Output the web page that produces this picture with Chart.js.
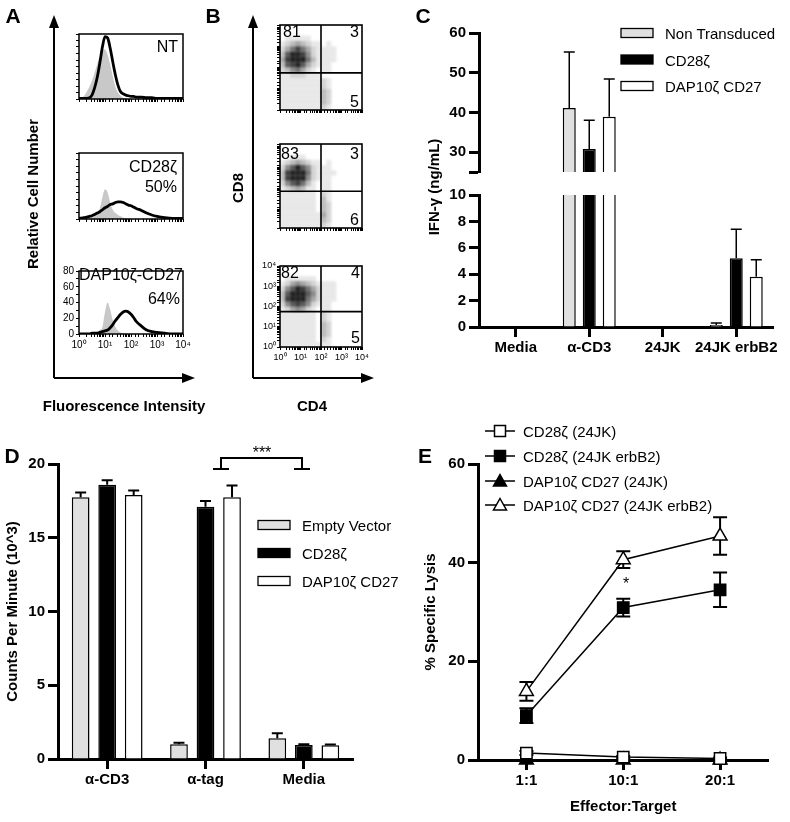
<!DOCTYPE html>
<html>
<head>
<meta charset="utf-8">
<title>CAR panels A-E</title>
<script src="https://cdn.jsdelivr.net/npm/chart.js@4.4.1/dist/chart.umd.min.js"></script>
<style>
  body { margin: 0; background: #fff; }
  #page { position: relative; width: 790px; height: 822px; overflow: hidden; font-family: 'Liberation Sans', Arial, Helvetica, sans-serif; }
  .box { position: absolute; }
  .soft { filter: blur(1.3px); }
  .t { position: absolute; white-space: nowrap; line-height: 1; color: #000; }
  #ov { position: absolute; left: 0; top: 0; }
</style>
</head>
<body>
<div id="page"></div>
<script>
// ---------- values ----------

// A: histograms, x in decades (log10 of fluorescence)
const histDecades = [0, 0.2, 0.4, 0.5, 0.6, 0.7, 0.8, 0.9, 1.0, 1.1, 1.2, 1.3, 1.4, 1.5, 1.6, 1.7, 1.8, 1.9, 2.0, 2.1, 2.2, 2.4, 2.6, 2.8, 3.0, 3.3, 3.6, 4.0];
const ntStained   = [1, 1, 2, 6, 17, 33, 55, 80, 96, 94, 78, 57, 37, 21, 11, 8, 6, 5, 4, 4, 3, 3, 2, 2, 1, 1, 1, 1];
const ntControl   = [0, 5, 19, 28, 40, 54, 65, 74, 76, 68, 53, 35, 19, 10, 5, 2, 1, 0, 0, 0, 0, 0, 0, 0, 0, 0, 0, 0];
const cd28Stained = [1, 2, 4, 5, 7, 9, 11, 14, 17, 19, 22, 23, 25, 26, 26, 25, 23, 21, 20, 18, 16, 13, 9, 6, 4, 2, 1, 1];
const cd28Control = [0, 1, 2, 3, 5, 9, 16, 33, 45, 40, 25, 14, 9, 6, 4, 2, 1, 1, 0, 0, 0, 0, 0, 0, 0, 0, 0, 0];
const dapStained  = [0, 0, 0, 1, 1, 1, 2, 3, 4, 5, 8, 12, 17, 21, 25, 28, 29, 28, 25, 21, 16, 10, 5, 3, 2, 1, 0, 0];
const dapControl  = [0, 0, 1, 1, 2, 3, 5, 9, 28, 40, 31, 17, 9, 4, 2, 1, 0, 0, 0, 0, 0, 0, 0, 0, 0, 0, 0, 0];

// B: CD4 (x) vs CD8 (y) density, quarter-decade cells, rows top (10^4) to bottom (10^0), 0-9
const dotNT = [
  "0000000000000000",
  "0000000000000000",
  "0111110000000000",
  "1234321101000000",
  "2468642111100000",
  "3799852111100000",
  "4899963111100000",
  "3789742111000000",
  "2356421011000000",
  "1122211100000000",
  "1111111121000000",
  "1111111121000000",
  "1111111132000000",
  "1111111132000000",
  "1111111132000000",
  "1111111121000000"
];
const dotCD28 = [
  "0000000000000000",
  "0000000000000000",
  "0011100000000000",
  "1234321101000000",
  "2579752111000000",
  "3899962111100000",
  "3899952111000000",
  "2578631011000000",
  "1234311011000000",
  "1111111021000000",
  "1111111031000000",
  "1111111032000000",
  "1111111032000000",
  "1111111142000000",
  "1111111132000000",
  "1111111121000000"
];
const dotDAP = [
  "0000000000000000",
  "0000000000000000",
  "0111111000000000",
  "1245432111100000",
  "2579864211100000",
  "3799975211100000",
  "3899964211100000",
  "2578752111000000",
  "1245421011000000",
  "1111111021000000",
  "1111111021000000",
  "1111111032000000",
  "1111111032000000",
  "1111111032000000",
  "1111111021000000",
  "1111111111000000"
];
const quadrantCD4 = 100;
const quadrantCD8 = 56;

// C: IFN-gamma (ng/mL)
const cCategories = ['Media', 'α-CD3', '24JK', '24JK erbB2'];
const cNonTransduced    = [0, 41.1, 0, 0.15];
const cNonTransducedErr = [0, 14.1, 0, 0.15];
const cCD28z    = [0, 30.8, 0, 5.2];
const cCD28zErr = [0, 7.2, 0, 2.2];
const cDAP10    = [0, 38.9, 0, 3.8];
const cDAP10Err = [0, 9.5, 0, 1.3];
const cUpperTicks = [25, 30, 40, 50, 60];

// D: counts per minute (10^3)
const dCategories = ['α-CD3', 'α-tag', 'Media'];
const dEmpty     = [17.75, 1.0, 1.4];
const dEmptyErr  = [0.32, 0.1, 0.34];
const dCD28z     = [18.6, 17.1, 0.95];
const dCD28zErr  = [0.3, 0.4, 0.05];
const dDAP10     = [17.9, 17.75, 0.93];
const dDAP10Err  = [0.3, 0.8, 0.06];

// E: % specific lysis
const eRatios = ['1:1', '10:1', '20:1'];
const eCD28z24JK       = [1.4, 0.6, 0.3];
const eCD28z24JKErr    = [0.4, 0.2, 0.2];
const eCD28zErbB2      = [9.0, 30.9, 34.5];
const eCD28zErbB2Err   = [1.5, 1.8, 3.5];
const eDAP10_24JK      = [0, 0, 0];
const eDAP10_24JKErr   = [0, 0, 0];
const eDAP10ErbB2      = [13.9, 40.6, 45.4];
const eDAP10ErbB2Err   = [1.9, 1.7, 3.8];

// ---------- helpers ----------
const page = document.getElementById('page');
const black = '#000';
const clear = 'rgba(0,0,0,0)';
const lightGrey = '#e0e0e0';
const densityAlpha = [0, 0.09, 0.17, 0.26, 0.35, 0.45, 0.55, 0.65, 0.76, 0.88];

Chart.defaults.font.family = "'Liberation Sans', Arial, Helvetica, sans-serif";
Chart.defaults.color = black;
Chart.defaults.animation = false;
Chart.defaults.responsive = true;
Chart.defaults.maintainAspectRatio = false;
Chart.defaults.plugins.legend.display = false;
Chart.defaults.plugins.tooltip.enabled = false;

// box round the plot area, plus quadrant lines for the dot plots
const framePlugin = {
  id: 'frame',
  afterDatasetsDraw(chart, args, opts) {
    if (!opts.show) return;
    const ctx = chart.ctx, a = chart.chartArea;
    ctx.save();
    ctx.strokeStyle = black;
    ctx.lineWidth = opts.width || 1.5;
    if (opts.quad) {
      const qx = chart.scales.x.getPixelForValue(opts.quad[0]);
      const qy = chart.scales.y.getPixelForValue(opts.quad[1]);
      ctx.beginPath();
      ctx.moveTo(qx, a.top); ctx.lineTo(qx, a.bottom);
      ctx.moveTo(a.left, qy); ctx.lineTo(a.right, qy);
      ctx.stroke();
    }
    ctx.strokeRect(a.left, a.top, a.width, a.height);
    ctx.restore();
  }
};

// error bars from dataset.errors, drawn under the marks
const errorBarPlugin = {
  id: 'errorBars',
  beforeDatasetsDraw(chart) {
    const ctx = chart.ctx, a = chart.chartArea, ys = chart.scales.y;
    ctx.save();
    ctx.beginPath();
    ctx.rect(a.left, a.top, a.width, a.height + 2);
    ctx.clip();
    chart.data.datasets.forEach((ds, i) => {
      if (!ds.errors) return;
      const meta = chart.getDatasetMeta(i);
      meta.data.forEach((el, j) => {
        const v = ds.data[j], e = ds.errors[j];
        if (v == null || !e) return;
        const top = ys.getPixelForValue(v + e);
        const bot = ys.getPixelForValue(ds.errorBoth ? v - e : v);
        const half = ds.errorCap / 2;
        ctx.strokeStyle = black;
        ctx.lineWidth = ds.errorWidth;
        ctx.beginPath();
        ctx.moveTo(el.x, top); ctx.lineTo(el.x, bot);
        ctx.moveTo(el.x - half, top); ctx.lineTo(el.x + half, top);
        if (ds.errorBoth) { ctx.moveTo(el.x - half, bot); ctx.lineTo(el.x + half, bot); }
        ctx.stroke();
      });
    });
    ctx.restore();
  }
};
Chart.register(framePlugin, errorBarPlugin);

function makeBox(left, top, width, height, cls) {
  const div = document.createElement('div');
  div.className = 'box' + (cls ? ' ' + cls : '');
  div.style.left = left + 'px';
  div.style.top = top + 'px';
  div.style.width = width + 'px';
  div.style.height = height + 'px';
  const cv = document.createElement('canvas');
  div.appendChild(cv);
  page.appendChild(div);
  return cv;
}

function fixY(w) { return s => { s.width = w; s.paddingTop = 0; s.paddingBottom = 0; }; }
function fixX(h) { return s => { s.height = h; s.paddingLeft = 0; s.paddingRight = 0; }; }

const sup = ['⁰', '¹', '²', '³', '⁴'];
function decadeLabel(v) {
  const e = Math.log10(v), r = Math.round(e);
  return Math.abs(e - r) < 1e-6 ? '10' + sup[r] : '';
}
function blank() { return ''; }

const smallGrid = { display: true, drawOnChartArea: false, drawTicks: true, tickLength: 3, color: black, lineWidth: 1 };
const smallFont = { size: 10 };
const bigGrid = { display: true, drawOnChartArea: false, drawTicks: true, offset: false, tickLength: 10, tickWidth: 3, tickColor: black };
const bigBorder = { display: true, color: black, width: 3 };
const bigFont = { size: 15, weight: 'bold' };

function bigX(h, title) {
  const ax = {
    afterFit: fixX(h), border: bigBorder, grid: bigGrid,
    ticks: { autoSkip: false, maxRotation: 0, padding: 2, font: bigFont }
  };
  if (title) ax.title = { display: true, text: title, font: bigFont, padding: { top: 4, bottom: 4 } };
  return ax;
}
function bigY(w, min, max, step, title) {
  const ax = {
    min: min, max: max, afterFit: fixY(w), border: bigBorder, grid: bigGrid,
    ticks: { stepSize: step, autoSkip: false, padding: 3, font: bigFont }
  };
  if (title) ax.title = { display: true, text: title, font: bigFont, padding: { top: 4, bottom: 4 } };
  return ax;
}

// ---------- A: histograms ----------
function histChart(box, yMax, stained, control, labelled) {
  const cv = makeBox(box[0], box[1], box[2], box[3]);
  const pts = arr => histDecades.map((d, i) => ({ x: Math.pow(10, d), y: arr[i] }));
  return new Chart(cv, {
    type: 'line',
    data: {
      datasets: [
        { data: pts(stained), borderColor: black, borderWidth: 2.8, pointRadius: 0, fill: false, cubicInterpolationMode: 'monotone' },
        { data: pts(control), borderColor: clear, borderWidth: 0, backgroundColor: '#c8c8c8', fill: 'origin', pointRadius: 0, cubicInterpolationMode: 'monotone' }
      ]
    },
    options: {
      layout: { padding: { top: 6, right: 8, bottom: 0, left: 0 } },
      scales: {
        x: { type: 'logarithmic', min: 1, max: 10000, afterFit: fixX(labelled ? 18 : 5), border: { display: false }, grid: smallGrid,
             ticks: { autoSkip: false, maxRotation: 0, padding: 2, font: smallFont, callback: labelled ? decadeLabel : blank } },
        y: { min: 0, max: yMax, afterFit: fixY(24), border: { display: false }, grid: smallGrid,
             ticks: { stepSize: 10, autoSkip: false, padding: 2, font: smallFont, callback: labelled ? (v => v % 20 === 0 ? v : '') : blank } }
      },
      plugins: { frame: { show: true, width: 1.5 } }
    }
  });
}
histChart([55, 28, 136, 76], 100, ntStained, ntControl, false);
histChart([55, 147, 136, 77], 100, cd28Stained, cd28Control, false);
histChart([55, 265, 136, 87], 80, dapStained, dapControl, true);

// ---------- B: dot plots (soft density layer under a sharp axes layer) ----------
function dotCells(rows) {
  const out = [];
  rows.forEach((row, r) => {
    for (let c = 0; c < row.length; c++) {
      const d = +row[c];
      if (d > 0) out.push({ x: Math.pow(10, (c + 0.5) * 0.25), y: Math.pow(10, 4 - (r + 0.5) * 0.25), d: d });
    }
  });
  return out;
}
function dotScales(labelled, hidden) {
  const grid = Object.assign({}, smallGrid, hidden ? { color: clear } : {});
  const tickColor = hidden ? clear : black;
  return {
    x: { type: 'logarithmic', min: 1, max: 10000, afterFit: fixX(labelled ? 18 : 5), border: { display: false }, grid: grid,
         ticks: { autoSkip: false, maxRotation: 0, padding: 2, color: tickColor, font: { size: 9 }, callback: labelled ? decadeLabel : blank } },
    y: { type: 'logarithmic', min: 1, max: 10000, afterFit: fixY(25), border: { display: false }, grid: grid,
         ticks: { autoSkip: false, padding: 1, color: tickColor, font: { size: 9 }, callback: labelled ? decadeLabel : blank } }
  };
}
function dotChart(box, rows, labelled) {
  const pad = { top: 6, right: 8, bottom: 0, left: 0 };
  new Chart(makeBox(box[0], box[1], box[2], box[3], 'soft'), {
    type: 'scatter',
    data: {
      datasets: [{
        data: dotCells(rows), pointStyle: 'rect', pointRadius: 3.7, borderWidth: 0,
        backgroundColor: c => 'rgba(0,0,0,' + (c.raw ? densityAlpha[c.raw.d] : 0) + ')'
      }]
    },
    options: { layout: { padding: pad }, scales: dotScales(labelled, true) }
  });
  new Chart(makeBox(box[0], box[1], box[2], box[3]), {
    type: 'scatter',
    data: { datasets: [{ data: [] }] },
    options: {
      layout: { padding: pad },
      scales: dotScales(labelled, false),
      plugins: { frame: { show: true, width: 1.6, quad: [quadrantCD4, quadrantCD8] } }
    }
  });
}
dotChart([255, 19, 115, 96], dotNT, false);
dotChart([255, 138, 115, 95], dotCD28, false);
dotChart([255, 260, 115, 105], dotDAP, true);

// ---------- C: IFN-gamma, broken axis as two stacked charts ----------
function cDatasets() {
  const common = { borderColor: black, borderWidth: 1.5, categoryPercentage: 0.816, barPercentage: 0.65, clip: 0, errorCap: 11, errorWidth: 1.5 };
  return [
    Object.assign({ label: 'Non Transduced', data: cNonTransduced, errors: cNonTransducedErr, backgroundColor: lightGrey }, common),
    Object.assign({ label: 'CD28ζ', data: cCD28z, errors: cCD28zErr, backgroundColor: black }, common),
    Object.assign({ label: 'DAP10ζ CD27', data: cDAP10, errors: cDAP10Err, backgroundColor: '#fff' }, common)
  ];
}
const cUpperY = bigY(60, 25, 60, 10);
cUpperY.afterBuildTicks = s => { s.ticks = cUpperTicks.map(v => ({ value: v })); };
cUpperY.ticks.callback = v => (v === 25 ? '' : v);
new Chart(makeBox(419, 23, 368, 154), {
  type: 'bar',
  data: { labels: cCategories, datasets: cDatasets() },
  options: {
    layout: { padding: { top: 10, right: 14, bottom: 5, left: 0 } },
    scales: { x: { display: false }, y: cUpperY }
  }
});
new Chart(makeBox(419, 185, 368, 177), {
  type: 'bar',
  data: { labels: cCategories, datasets: cDatasets() },
  options: {
    layout: { padding: { top: 10, right: 14, bottom: 0, left: 0 } },
    scales: { x: bigX(35), y: bigY(60, 0, 10, 2) }
  }
});

// ---------- D: proliferation ----------
(function () {
  const common = { borderColor: black, borderWidth: 1.5, categoryPercentage: 0.809, barPercentage: 0.668, clip: 0, errorCap: 11, errorWidth: 2 };
  new Chart(makeBox(0, 454, 358, 340), {
    type: 'bar',
    data: {
      labels: dCategories,
      datasets: [
        Object.assign({ label: 'Empty Vector', data: dEmpty, errors: dEmptyErr, backgroundColor: lightGrey }, common),
        Object.assign({ label: 'CD28ζ', data: dCD28z, errors: dCD28zErr, backgroundColor: black }, common),
        Object.assign({ label: 'DAP10ζ CD27', data: dDAP10, errors: dDAP10Err, backgroundColor: '#fff' }, common)
      ]
    },
    options: {
      layout: { padding: { top: 10, right: 5, bottom: 0, left: 0 } },
      scales: { x: bigX(35), y: bigY(58, 0, 20, 5, 'Counts Per Minute (10^3)') }
    }
  });
})();

// ---------- E: cytotoxicity ----------
(function () {
  const common = { borderColor: black, borderWidth: 1.5, pointBorderColor: black, pointBorderWidth: 1.5, pointRadius: 8, clip: false,
                   errorBoth: true, errorCap: 14, errorWidth: 2 };
  const ex = bigX(60, 'Effector:Target');
  ex.offset = true;
  new Chart(makeBox(418, 454, 360, 366), {
    type: 'line',
    data: {
      labels: eRatios,
      datasets: [
        Object.assign({ label: 'CD28ζ (24JK)', data: eCD28z24JK, errors: eCD28z24JKErr, pointStyle: 'rect', pointBackgroundColor: '#fff' }, common),
        Object.assign({ label: 'CD28ζ (24JK erbB2)', data: eCD28zErbB2, errors: eCD28zErbB2Err, pointStyle: 'rect', pointBackgroundColor: black }, common),
        Object.assign({ label: 'DAP10ζ CD27 (24JK)', data: eDAP10_24JK, errors: eDAP10_24JKErr, pointStyle: 'triangle', pointBackgroundColor: black }, common),
        Object.assign({ label: 'DAP10ζ CD27 (24JK erbB2)', data: eDAP10ErbB2, errors: eDAP10ErbB2Err, pointStyle: 'triangle', pointBackgroundColor: '#fff' }, common)
      ]
    },
    options: {
      layout: { padding: { top: 10, right: 5, bottom: 0, left: 0 } },
      scales: { x: ex, y: bigY(60, 0, 60, 20, '% Specific Lysis') }
    }
  });
})();

// ---------- overlay: arrows, legends, bracket ----------
page.insertAdjacentHTML('beforeend', `
<svg id="ov" width="790" height="822" xmlns="http://www.w3.org/2000/svg">
  <g stroke="#000" stroke-width="2" fill="none">
    <path d="M54,378 V26 M54,378 H184"/>
    <path d="M253,378 V26 M253,378 H363"/>
    <path d="M213,469 H229 M221,469 V458 H302 V469 M294,469 H310"/>
    <path d="M485,431 H515 M485,456 H515 M485,481 H515 M485,505 H515" stroke-width="1.5"/>
  </g>
  <g fill="#000">
    <path d="M54,15 L49,28 L59,28 Z"/>
    <path d="M195,378 L182,373 L182,383 Z"/>
    <path d="M253,15 L248,28 L258,28 Z"/>
    <path d="M374,378 L361,373 L361,383 Z"/>
  </g>
  <g stroke="#000" stroke-width="1.3">
    <rect x="621" y="28.5" width="32" height="9" fill="${lightGrey}"/>
    <rect x="621" y="55" width="32" height="9" fill="#000"/>
    <rect x="621" y="81.5" width="32" height="9" fill="#fff"/>
    <rect x="258" y="520.5" width="32" height="9" fill="${lightGrey}"/>
    <rect x="258" y="548.5" width="32" height="9" fill="#000"/>
    <rect x="258" y="576.5" width="32" height="9" fill="#fff"/>
  </g>
  <g stroke="#000" stroke-width="1.5">
    <rect x="494.5" y="425.5" width="11" height="11" fill="#fff"/>
    <rect x="494.5" y="450.5" width="11" height="11" fill="#000"/>
    <path d="M500,474.5 L506.5,486 L493.5,486 Z" fill="#000"/>
    <path d="M500,498.5 L506.5,510 L493.5,510 Z" fill="#fff"/>
  </g>
</svg>`);

function label(text, x, y, size, opts) {
  opts = opts || {};
  const el = document.createElement('div');
  el.className = 't';
  el.textContent = text;
  const anchor = opts.anchor || 'left';
  const tx = anchor === 'left' ? '0' : anchor === 'right' ? '-100%' : '-50%';
  el.style.left = x + 'px';
  el.style.top = y + 'px';
  el.style.fontSize = size + 'px';
  if (opts.bold) el.style.fontWeight = 'bold';
  el.style.transform = 'translate(' + tx + ',-50%)' + (opts.rotate ? ' rotate(-90deg)' : '');
  page.appendChild(el);
}

// panel letters
label('A', 13, 15, 21, { anchor: 'center', bold: true });
label('B', 213, 15, 21, { anchor: 'center', bold: true });
label('C', 423, 15, 21, { anchor: 'center', bold: true });
label('D', 12, 455, 21, { anchor: 'center', bold: true });
label('E', 425, 455, 21, { anchor: 'center', bold: true });

// A
label('Relative Cell Number', 32, 194, 15, { anchor: 'center', bold: true, rotate: true });
label('Fluorescence Intensity', 124, 405, 15, { anchor: 'center', bold: true });
label('NT', 178, 47, 16, { anchor: 'right' });
label('CD28ζ', 177, 167, 16, { anchor: 'right' });
label('50%', 177, 187, 16, { anchor: 'right' });
label('DAP10ζ-CD27', 183, 275, 16, { anchor: 'right' });
label('64%', 180, 299, 16, { anchor: 'right' });

// B
label('CD8', 237, 188, 15, { anchor: 'center', bold: true, rotate: true });
label('CD4', 312, 405, 15, { anchor: 'center', bold: true });
label('81', 283, 32, 16);
label('3', 359, 32, 16, { anchor: 'right' });
label('5', 359, 102, 16, { anchor: 'right' });
label('83', 281, 154, 16);
label('3', 359, 154, 16, { anchor: 'right' });
label('6', 359, 220, 16, { anchor: 'right' });
label('82', 281, 273, 16);
label('4', 360, 273, 16, { anchor: 'right' });
label('5', 360, 338, 16, { anchor: 'right' });

// C
label('IFN-γ (ng/mL)', 433, 187, 15, { anchor: 'center', bold: true, rotate: true });
label('Non Transduced', 665, 33, 15);
label('CD28ζ', 665, 59.5, 15);
label('DAP10ζ CD27', 665, 86, 15);

// D
label('***', 262, 453, 16, { anchor: 'center' });
label('Empty Vector', 302, 525, 15);
label('CD28ζ', 302, 553, 15);
label('DAP10ζ CD27', 302, 581, 15);

// E
label('CD28ζ (24JK)', 523, 431, 15);
label('CD28ζ (24JK erbB2)', 523, 456, 15);
label('DAP10ζ CD27 (24JK)', 523, 481, 15);
label('DAP10ζ CD27 (24JK erbB2)', 523, 505, 15);
label('*', 626, 584, 16, { anchor: 'center' });
</script>
</body>
</html>
